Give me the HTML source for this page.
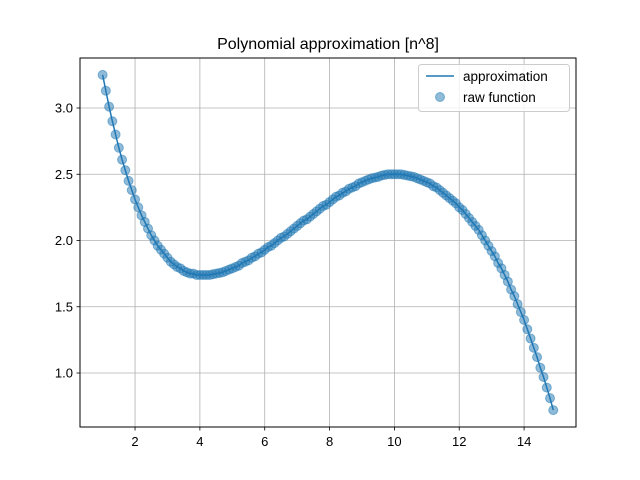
<!DOCTYPE html>
<html><head><meta charset="utf-8"><style>
body{margin:0;background:#fff}
svg{display:block;font-family:"Liberation Sans","DejaVu Sans",sans-serif}
</style></head><body>
<svg id="chart" width="640" height="480" viewBox="0 0 640 480">
<rect width="640" height="480" fill="#fff"/>
<text x="328" y="49" font-size="16" text-anchor="middle">Polynomial approximation [n^8]</text>
<g id="grid"></g>
<g id="series"></g>
<rect x="80" y="58" width="496" height="369" fill="none" stroke="#000" stroke-width="1"/>
<g id="ticks"></g>
<g>
<rect x="418.5" y="64.5" width="151" height="47" rx="3" fill="#fff" fill-opacity="0.8" stroke="#ccc"/>
<line x1="426" y1="76" x2="454" y2="76" stroke="#1f77b4" stroke-width="1.5"/>
<text x="463" y="81" font-size="13.5">approximation</text>
<circle cx="440" cy="97" r="4.5" fill="#1f77b4" fill-opacity="0.5" stroke="#1f77b4" stroke-opacity="0.5"/>
<text x="463" y="102" font-size="13.5">raw function</text>
</g>
</svg>
<script>
const xValues = [];
for (let i = 0; i < 140; i++) xValues.push(+(1 + i * 0.1).toFixed(1));
const yValues = [3.25,3.13,3.01,2.90,2.80,2.70,2.61,2.53,2.45,2.38,
2.31,2.25,2.19,2.14,2.09,2.04,2.00,1.96,1.93,1.90,
1.87,1.84,1.82,1.80,1.79,1.77,1.76,1.75,1.75,1.74,
1.74,1.74,1.74,1.74,1.745,1.75,1.755,1.76,1.77,1.78,
1.79,1.80,1.81,1.83,1.84,1.85,1.87,1.88,1.90,1.91,
1.93,1.95,1.96,1.98,2.00,2.02,2.03,2.05,2.07,2.09,
2.11,2.13,2.15,2.16,2.18,2.20,2.22,2.24,2.26,2.27,
2.29,2.31,2.33,2.34,2.36,2.37,2.39,2.40,2.41,2.43,
2.44,2.45,2.46,2.47,2.475,2.48,2.49,2.495,2.50,2.50,
2.50,2.50,2.50,2.495,2.49,2.485,2.48,2.47,2.46,2.45,
2.44,2.43,2.41,2.40,2.38,2.36,2.34,2.32,2.30,2.28,
2.25,2.23,2.20,2.17,2.14,2.11,2.08,2.04,2.00,1.96,
1.92,1.88,1.83,1.79,1.74,1.69,1.63,1.58,1.52,1.46,
1.40,1.33,1.26,1.19,1.12,1.04,0.97,0.89,0.81,0.72];
const xTicks = [2,4,6,8,10,12,14];
const yTicks = [1.0,1.5,2.0,2.5,3.0];

const X = v => 70.2 + v * 32.42;
const Y = v => 373 - (v - 1) * 132.5;
const NS = "http://www.w3.org/2000/svg";
const mk = (tag, attrs, parent) => { const e = document.createElementNS(NS, tag); for (const k in attrs) e.setAttribute(k, attrs[k]); parent.appendChild(e); return e; };
const grid = document.getElementById('grid'), ticks = document.getElementById('ticks'), series = document.getElementById('series');

xTicks.forEach(t => {
  const gl = mk('line', {x1:X(t), x2:X(t), y1:58, y2:427, stroke:'#b0b0b0', 'stroke-width':0.8}, grid);
  
  
  mk('line', {x1:X(t), x2:X(t), y1:427, y2:430.5, stroke:'#000', 'stroke-width':0.8}, ticks);
  const tx = mk('text', {x:X(t), y:446, 'font-size':13, 'text-anchor':'middle'}, ticks);
  tx.textContent = t;
  
  
});
yTicks.forEach(t => {
  const gl = mk('line', {x1:80, x2:576, y1:Y(t), y2:Y(t), stroke:'#b0b0b0', 'stroke-width':0.8}, grid);
  
  
  mk('line', {x1:76.5, x2:80, y1:Y(t), y2:Y(t), stroke:'#000', 'stroke-width':0.8}, ticks);
  const tx = mk('text', {x:73, y:Y(t)+4.5, 'font-size':13, 'text-anchor':'end'}, ticks);
  tx.textContent = t.toFixed(1);
  
  
});

const n = Math.min(xValues.length, yValues.length);
let d = '';
for (let i = 0; i < n; i++) d += (i ? 'L' : 'M') + X(xValues[i]).toFixed(2) + ' ' + Y(yValues[i]).toFixed(2);
const line = mk('path', {d:d, fill:'none', stroke:'#1f77b4', 'stroke-width':1.5}, series);


for (let i = 0; i < n; i++) {
  const c = mk('circle', {cx:X(xValues[i]), cy:Y(yValues[i]), r:4.5, fill:'#1f77b4', 'fill-opacity':0.5, stroke:'#1f77b4', 'stroke-opacity':0.5}, series);
  
  
}
</script>
</body></html>
